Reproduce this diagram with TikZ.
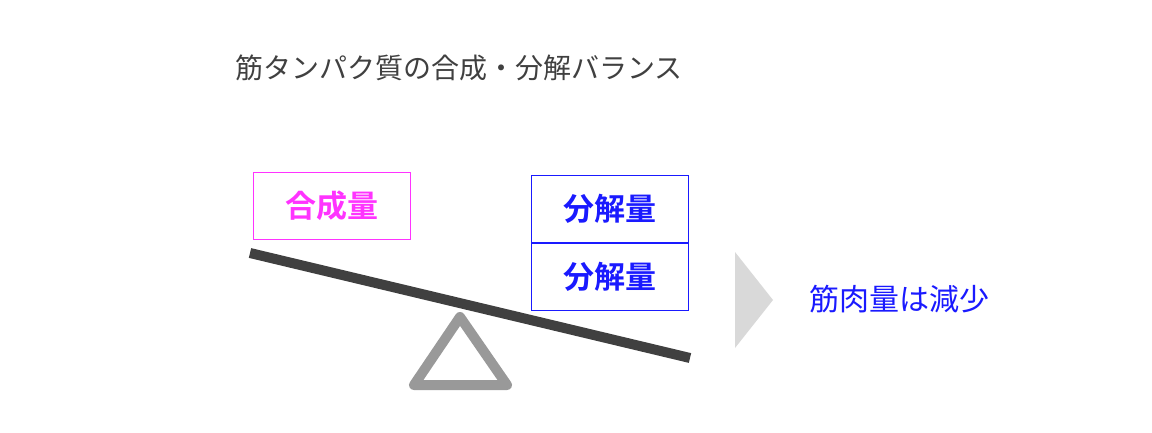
\documentclass[tikz,border=0pt]{standalone}
\usepackage{fontspec}
\newfontfamily\cjk{Noto Sans CJK JP}
\newfontfamily\cjkbold{Noto Sans CJK JP Bold}
\usetikzlibrary{positioning}
\definecolor{darktext}{HTML}{404040}
\definecolor{synth}{HTML}{FF33FF}
\definecolor{decomp}{HTML}{1A1AFF}
\definecolor{fulcrum}{HTML}{999999}
\definecolor{pointer}{HTML}{D9D9D9}
\tikzset{
  amountbox/.style={draw, line width=1pt, minimum width=157pt, minimum height=67pt,
    inner sep=0pt, font=\cjkbold\fontsize{31}{33}\selectfont},
}

\begin{document}
\begin{tikzpicture}[x=1pt,y=-1pt]
\useasboundingbox (0,0) rectangle (1152,432);
\node[text=darktext, font=\cjk\fontsize{28}{30}\selectfont] (title) at (459,68) {筋タンパク質の合成・分解バランス};
% seesaw
\draw[fulcrum, line width=10pt, line join=round] (460,317) -- (414,385) -- (507,385) -- cycle;
\coordinate (beamL) at (250,253);
\coordinate (beamR) at (690,358);
\draw[darktext, line width=10pt] (beamL) -- (beamR);
% amounts
\node[amountbox, draw=synth, text=synth] (synth) at (331.5,205.5) {合成量};
\node[amountbox, draw=decomp, text=decomp] (decompA) at (609.5,209) {分解量};
\node[amountbox, draw=decomp, text=decomp, below=0pt of decompA] (decompB) {分解量};
% result
\fill[pointer] (735,252) -- (773,300) -- (735,348) -- cycle;
\node[text=decomp, font=\cjk\fontsize{30}{32}\selectfont] (result) at (899,299) {筋肉量は減少};
\end{tikzpicture}
\end{document}
